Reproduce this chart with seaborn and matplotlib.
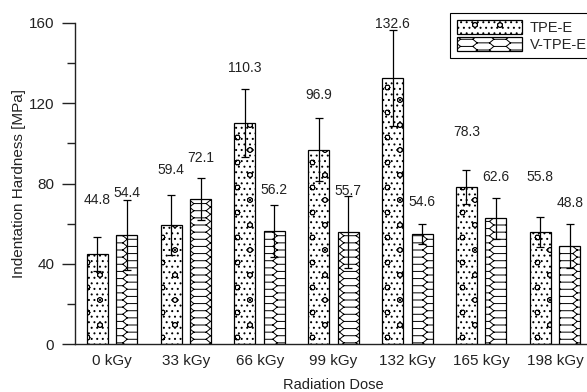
import warnings
import numpy as np
import pandas as pd
import matplotlib
matplotlib.use("Agg")
import matplotlib.pyplot as plt
import matplotlib.hatch as mhatch
from matplotlib.path import Path
from matplotlib.patches import Patch
from matplotlib.ticker import MultipleLocator
import seaborn as sns

warnings.filterwarnings("ignore", message=".*hatch.*")

# ---- data -------------------------------------------------------------
doses = ["0 kGy", "33 kGy", "66 kGy", "99 kGy", "132 kGy", "165 kGy", "198 kGy"]
materials = ["TPE-E", "V-TPE-E"]

tpe_e_mean = [44.8, 59.4, 110.3, 96.9, 132.6, 78.3, 55.8]
tpe_e_sd = [8.5, 15.1, 17.0, 15.9, 23.9, 8.6, 7.4]
v_tpe_e_mean = [54.4, 72.1, 56.2, 55.7, 54.6, 62.6, 48.8]
v_tpe_e_sd = [17.4, 10.4, 13.0, 18.0, 5.0, 10.4, 11.0]

# height (MPa) at which each value annotation is centred
tpe_e_label_y = [71.8, 86.7, 137.8, 124.1, 159.5, 105.8, 83.1]
v_tpe_e_label_y = [75.3, 92.5, 76.8, 76.4, 70.6, 83.4, 70.1]


# ---- extra hatch patterns (honeycomb and open rings) -------------------
class _TileHatch(mhatch.HatchPatternBase):
    key = ""

    def __init__(self, hatch, density):
        if hatch and self.key in hatch:
            segs = self.segments()
            self.verts = np.array(segs, dtype=float).reshape(-1, 2)
            self.codes = np.tile([Path.MOVETO, Path.LINETO],
                                 len(segs)).astype(Path.code_type)
        else:
            self.verts = np.empty((0, 2))
            self.codes = np.empty(0, dtype=Path.code_type)
        self.num_vertices = len(self.verts)

    def set_vertices_and_codes(self, vertices, codes):
        vertices[:] = self.verts
        codes[:] = self.codes


class HoneycombHatch(_TileHatch):
    key = "h"
    cols, rows, slant = 3, 14, 0.043

    def segments(self):
        W, H, c = 1 / self.cols, 1 / self.rows, self.slant
        b = W / 2 - c
        segs = []
        for i in range(-1, self.cols + 2):
            for j in range(-1, self.rows + 2):
                for dx, dy in ((0, 0), (W / 2, H / 2)):
                    x0, y0 = i * W + dx, j * H + dy
                    segs += [((x0 - b / 2, y0 + H / 2), (x0 + b / 2, y0 + H / 2)),
                             ((x0 + b / 2, y0 + H / 2), (x0 + b / 2 + c, y0)),
                             ((x0 + b / 2 + c, y0), (x0 + b / 2, y0 - H / 2))]
        return segs


class RingHatch(_TileHatch):
    key = "c"
    rows, per_row, radius, sides = 8, 4, 0.024, 10

    def segments(self):
        ang = np.linspace(0, 2 * np.pi, self.sides + 1)
        ring = np.column_stack([np.cos(ang), np.sin(ang)]) * self.radius
        segs = []
        for r in range(-1, self.rows + 2):
            shift = 0.5 / self.per_row if r % 2 else 0.0
            for k in range(-1, self.per_row + 2):
                cx, cy = k / self.per_row + shift, r / self.rows
                pts = ring + (cx, cy)
                segs += [(tuple(pts[n]), tuple(pts[n + 1]))
                         for n in range(self.sides)]
        return segs


mhatch._hatch_types.extend([HoneycombHatch, RingHatch])
hatches = ["...c", "h"]

# ---- style ------------------------------------------------------------
sns.set_style("ticks")
plt.rcParams["font.family"] = ["Liberation Sans", "DejaVu Sans"]
plt.rcParams["hatch.linewidth"] = 0.7
plt.rcParams["axes.linewidth"] = 1.0

df = pd.DataFrame({
    "dose": doses * 2,
    "hardness": tpe_e_mean + v_tpe_e_mean,
    "material": [materials[0]] * len(doses) + [materials[1]] * len(doses),
})

fig = plt.figure(figsize=(5.87, 3.92), dpi=100)
ax = fig.add_axes([75 / 587, 48 / 392, 517 / 587, 321 / 392])

sns.barplot(data=df, x="dose", y="hardness", hue="material", hue_order=materials,
            order=doses, palette=["white", "white"], edgecolor="black",
            linewidth=0.9, width=0.8, gap=0.29, errorbar=None, legend=False,
            saturation=1, ax=ax)

series = [(tpe_e_mean, tpe_e_sd, tpe_e_label_y),
          (v_tpe_e_mean, v_tpe_e_sd, v_tpe_e_label_y)]
for container, hatch, (means, sds, label_y) in zip(ax.containers, hatches, series):
    xs = []
    for bar in container:
        bar.set_hatch(hatch)
        xs.append(bar.get_x() + bar.get_width() / 2)
    ax.errorbar(xs, means, yerr=sds, fmt="none", ecolor="black",
                elinewidth=0.9, capsize=2.8, capthick=0.9, zorder=5)
    for x, m, ly in zip(xs, means, label_y):
        ax.text(x, ly, f"{m:.1f}", ha="center", va="center", fontsize=10,
                color="#222222")

ax.set_xlim(-0.5, len(doses) - 0.5)
ax.set_ylim(0, 160)
ax.yaxis.set_major_locator(MultipleLocator(40))
ax.yaxis.set_minor_locator(MultipleLocator(20))
ax.tick_params(axis="y", which="major", length=9.4, width=1.0, pad=5.5,
               labelsize=11, colors="#222222")
ax.tick_params(axis="y", which="minor", length=6, width=1.0, color="#222222")
ax.tick_params(axis="x", length=0, pad=7, labelsize=11, labelcolor="#222222")
sns.despine(ax=ax)
for s in ("left", "bottom"):
    ax.spines[s].set_color("#222222")

ax.set_xlabel("Radiation Dose", fontsize=10.5, labelpad=7.5, color="#222222")
ax.set_ylabel("Indentation Hardness [MPa]", fontsize=11, labelpad=2,
              color="#222222")

handles = [Patch(facecolor="white", edgecolor="black", linewidth=0.9, hatch=h)
           for h in hatches]
leg = ax.legend(handles, materials, loc="upper left",
                bbox_to_anchor=(450 / 587, 1 - 13 / 392),
                bbox_transform=fig.transFigure, frameon=True, fancybox=False,
                edgecolor="black", fontsize=10.5, handlelength=4.5,
                handleheight=1.1, borderpad=0.45, labelspacing=0.15,
                handletextpad=0.5, borderaxespad=0, framealpha=1)
leg.get_frame().set_linewidth(0.8)

fig.savefig("out.png", dpi=100)
